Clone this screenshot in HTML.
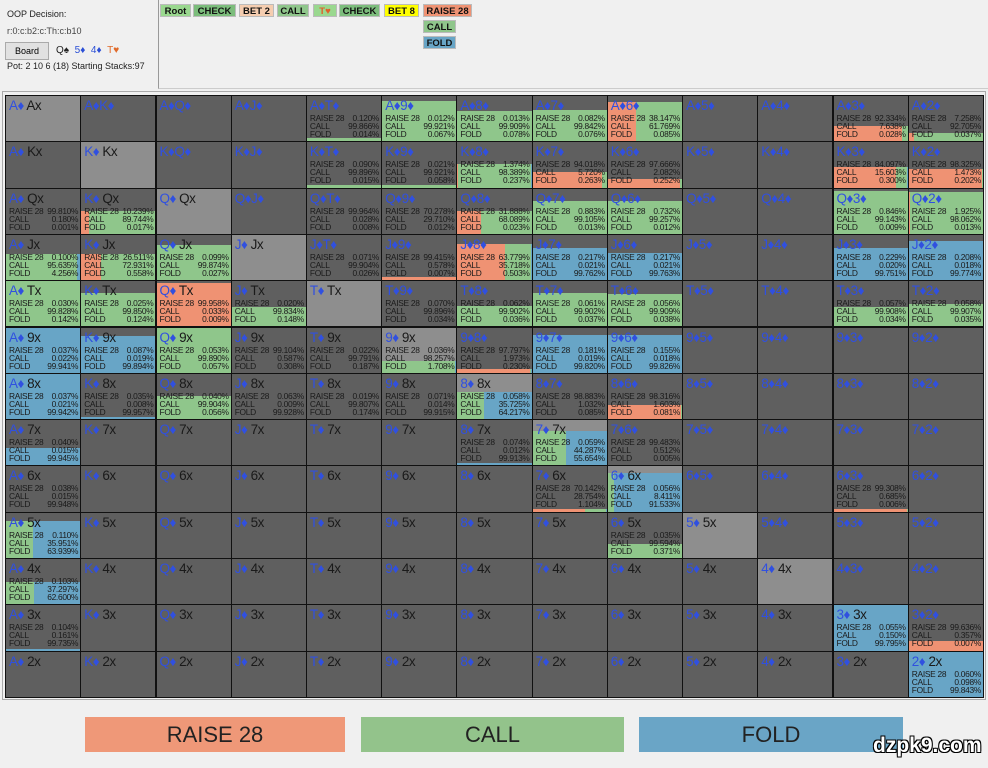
<!DOCTYPE html>
<html><head><meta charset="utf-8">
<style>
body{margin:0;width:988px;height:768px;background:#f0f0f0;font-family:"Liberation Sans",sans-serif;position:relative;overflow:hidden}
.t{position:absolute;font-size:9px;color:#222;white-space:nowrap}
.btn{position:absolute;height:13px;font-size:9.5px;font-weight:bold;text-align:center;line-height:13px;color:#111;border:1px solid #bbb;box-sizing:border-box}
.cell{position:absolute;box-sizing:border-box;border:1px solid #111;overflow:hidden}
.bar{position:absolute;left:0;right:0;bottom:0;display:flex}
.lab{position:absolute;left:3px;top:2px;font-size:13.5px;color:#3050e0;letter-spacing:-0.5px;white-space:nowrap}
.lab b{font-weight:normal;color:#1a1a1a}
.st{position:absolute;left:3px;right:2px;font-size:8.4px;line-height:8px;color:#1a1a1a;display:flex;justify-content:space-between;white-space:nowrap;letter-spacing:-0.3px}
.leg{position:absolute;top:717px;height:35px;font-size:22px;text-align:center;line-height:35px;color:#222}
</style></head><body>
<div class="t" style="left:7px;top:9px">OOP Decision:</div>
<div class="t" style="left:7px;top:26px;color:#444">r:0:c:b2:c:Th:c:b10</div>
<div style="position:absolute;left:5px;top:42px;width:42px;height:16px;background:#e1e1e1;border:1px solid #aaa;font-size:9px;text-align:center;line-height:16px">Board</div>
<div class="t" style="left:56px;top:45px;font-size:10px">Q♠ &nbsp;<span style="color:#2b4fd6">5♦</span> &nbsp;<span style="color:#2b4fd6">4♦</span> &nbsp;<span style="color:#e06a2a">T♥</span></div>
<div class="t" style="left:7px;top:61px">Pot: 2 10 6 (18) Starting Stacks:97</div>
<div style="position:absolute;left:158px;top:0;width:830px;height:88px;border-left:1px solid #999;border-bottom:1px solid #ccc"></div>
<div class="btn" style="left:160px;top:4px;width:31px;background:#9ad88f">Root</div>
<div class="btn" style="left:193px;top:4px;width:43px;background:#7cbd7c">CHECK</div>
<div class="btn" style="left:239px;top:4px;width:35px;background:#f5cdb0">BET 2</div>
<div class="btn" style="left:277px;top:4px;width:32px;background:#8fc68b">CALL</div>
<div class="btn" style="left:313px;top:4px;width:24px;background:#9ad88f;color:#e0602a">T♥</div>
<div class="btn" style="left:339px;top:4px;width:41px;background:#7cbd7c">CHECK</div>
<div class="btn" style="left:384px;top:4px;width:35px;background:#ffff00">BET 8</div>
<div class="btn" style="left:423px;top:4px;width:49px;background:#ef9273">RAISE 28</div>
<div class="btn" style="left:423px;top:20px;width:33px;background:#8fc68b">CALL</div>
<div class="btn" style="left:423px;top:36px;width:33px;background:#68a5c6">FOLD</div>
<div style="position:absolute;left:2px;top:91px;width:984px;height:609px;border:1px solid #aaa;box-sizing:border-box"></div>
<div id="g"></div>
<div class="leg" style="left:85px;width:260px;background:#ef9878">RAISE 28</div>
<div class="leg" style="left:361px;width:263px;background:#93c38b">CALL</div>
<div class="leg" style="left:639px;width:264px;background:#6aa5c6">FOLD</div>
<div style="position:absolute;left:873px;top:734px;font-size:21px;font-weight:bold;color:#fff;text-shadow:-1px -1px 0 #000,1px -1px 0 #000,-1px 1px 0 #000,1px 1px 0 #000">dzpk9.com</div>
<script>
var R="AKQJT98765432".split("");
var D={
"0,4":["0.120","99.866","0.014",.08],"0,5":["0.012","99.921","0.067",.88],"0,6":["0.013","99.909","0.078",.67],"0,7":["0.082","99.842","0.076",.7],"0,8":["38.147","61.769","0.085",.86],"0,11":["92.334","7.638","0.028",.34],"0,12":["7.258","92.705","0.037",.19],
"1,4":["0.090","99.896","0.015",.06],"1,5":["0.021","99.921","0.058",.06],"1,6":["1.374","98.389","0.237",.53],"1,7":["94.018","5.720","0.263",.34],"1,8":["97.666","2.082","0.252",.2],"1,11":["84.097","15.603","0.300",.45],"1,12":["98.325","1.473","0.202",.42],
"2,0":["99.810","0.180","0.001",0],"2,1":["10.239","89.744","0.017",.5],"2,4":["99.964","0.028","0.008",0],"2,5":["70.278","29.710","0.012",0],"2,6":["31.888","68.089","0.023",.5],"2,7":["0.883","99.105","0.013",.72],"2,8":["0.732","99.257","0.012",.72],"2,11":["0.846","99.143","0.009",.95],"2,12":["1.925","98.062","0.013",.92],
"3,0":["0.100","95.635","4.256",.57],"3,1":["26.511","72.931","0.558",.57],"3,2":["0.099","99.874","0.027",.77],"3,4":["0.071","99.904","0.026",0],"3,5":["99.415","0.578","0.007",.08],"3,6":["63.779","35.718","0.503",.8],"3,7":["0.217","0.021","99.762",.72],"3,8":["0.217","0.021","99.763",.6],"3,11":["0.229","0.020","99.751",.7],"3,12":["0.208","0.018","99.774",.87],
"4,0":["0.030","99.828","0.142",1],"4,1":["0.025","99.850","0.124",.75],"4,2":["99.958","0.033","0.009",.97],"4,3":["0.020","99.834","0.148",.43],"4,5":["0.070","99.896","0.034",0],"4,6":["0.062","99.902","0.036",.45],"4,7":["0.061","99.902","0.037",.75],"4,8":["0.056","99.909","0.038",.72],"4,11":["0.057","99.908","0.034",.43],"4,12":["0.058","99.907","0.035",.5],
"5,0":["0.037","0.022","99.941",1],"5,1":["0.087","0.019","99.894",.82],"5,2":["0.053","99.890","0.057",1],"5,3":["99.104","0.587","0.308",0],"5,4":["0.022","99.791","0.187",0],"5,5":["0.036","98.257","1.708",.27],"5,6":["97.797","1.973","0.230",.08],"5,7":["0.181","0.019","99.820",.83],"5,8":["0.155","0.018","99.826",.83],
"6,0":["0.037","0.021","99.942",1],"6,1":["0.035","0.008","99.957",.04],"6,2":["0.040","99.904","0.056",.5],"6,3":["0.063","0.009","99.928",0],"6,4":["0.019","99.807","0.174",0],"6,5":["0.071","0.014","99.915",0],"6,6":["0.058","35.725","64.217",.6],"6,7":["98.883","1.032","0.085",0],"6,8":["98.316","1.603","0.081",.32],
"7,0":["0.040","0.015","99.945",.38],"7,6":["0.074","0.012","99.913",.06],"7,7":["0.059","44.287","55.654",.77],"7,8":["99.483","0.512","0.005",0],
"8,0":["0.038","0.015","99.948",0],"8,7":["70.142","28.754","1.104",.05],"8,8":["0.056","8.411","91.533",.86],"8,11":["99.308","0.685","0.006",.06],
"9,0":["0.110","35.951","63.939",.82],"9,8":["0.035","99.594","0.371",.3],
"10,0":["0.103","37.297","62.600",.5],
"11,0":["0.104","0.161","99.735",.03],"11,11":["0.055","0.150","99.795",1],"11,12":["99.636","0.357","0.007",.22],
"12,12":["0.060","0.098","99.843",1]};
var h="",cw=75.23,ch=46.3;
for(var r=0;r<13;r++)for(var c=0;c<13;c++){
 var x=5+c*cw,y=95+r*ch,bg=(r==c)?"#8e8e8e":"#5f5f5f";
 var lab=c>r?R[r]+"♦"+R[c]+"♦":R[c]+"♦ <b>"+R[r]+"x</b>";
 var s='<div class="cell" style="left:'+x.toFixed(1)+'px;top:'+y.toFixed(1)+'px;width:'+(cw+1).toFixed(1)+'px;height:'+(ch+1).toFixed(1)+'px;background:'+bg+'">';
 var d=D[r+","+c];
 if(d){var a=parseFloat(d[0]),b=parseFloat(d[1]),f=parseFloat(d[2]);
  if(d[3]>0)s+='<div class="bar" style="height:'+(d[3]*100)+'%"><div style="flex:'+a+';background:#ef9273"></div><div style="flex:'+b+';background:#8fc68b"></div><div style="flex:'+f+';background:#68a5c6"></div></div>';
 }
 s+='<div class="lab">'+lab+'</div>';
 if(d){s+='<div class="st" style="top:18px"><span>RAISE 28</span><span>'+d[0]+'%</span></div><div class="st" style="top:26px"><span>CALL</span><span>'+d[1]+'%</span></div><div class="st" style="top:34px"><span>FOLD</span><span>'+d[2]+'%</span></div>';}
 s+='</div>';h+=s;}
document.getElementById("g").innerHTML=h;
</script>
</body></html>
